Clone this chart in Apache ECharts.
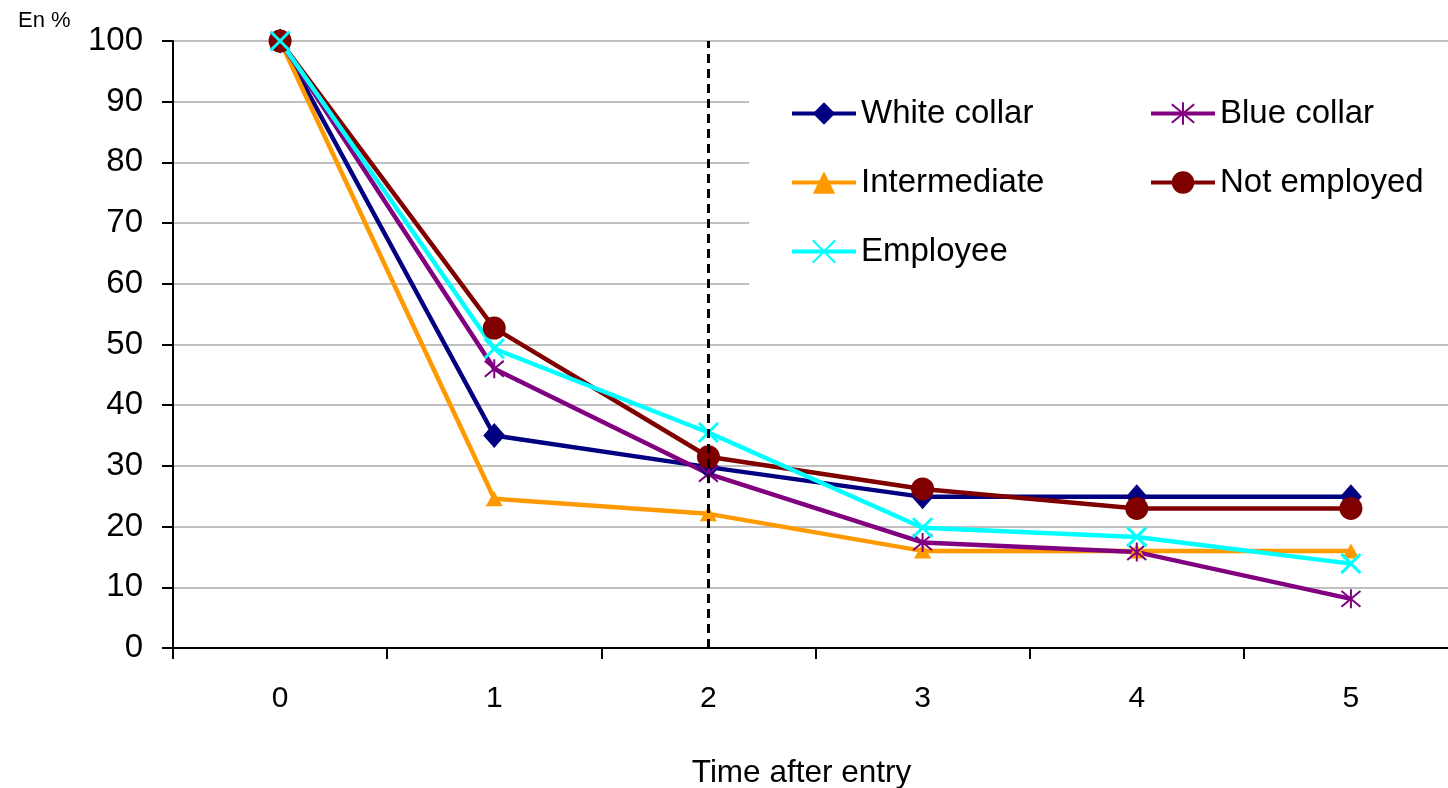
<!DOCTYPE html>
<html>
<head>
<meta charset="utf-8">
<script src="https://cdn.jsdelivr.net/npm/echarts@6/dist/echarts.min.js"></script>
<style>
html,body{margin:0;padding:0;background:#fff;}
#chart{width:1448px;height:788px;}
</style>
</head>
<body>
<div id="chart"></div>
<script>
const categories = ['0', '1', '2', '3', '4', '5'];
const whiteCollar = [100, 35.0, 29.8, 24.9, 24.9, 24.9];
const intermediate = [100, 24.6, 22.1, 16.0, 16.0, 16.0];
const employee = [100, 49.3, 35.5, 19.8, 18.3, 13.9];
const blueCollar = [100, 46.0, 28.7, 17.4, 15.8, 8.1];
const notEmployed = [100, 52.7, 31.5, 26.2, 23.0, 23.0];
const yTicks = [0, 10, 20, 30, 40, 50, 60, 70, 80, 90, 100];
const markerCategory = '2';

const FONT = '"Liberation Sans", Arial, sans-serif';
const xPath = 'path://M0,0L10,10M10,0L0,10';
const starPath = 'path://M0,0L10,10M10,0L0,10M5,-1L5,11';

const chart = echarts.init(document.getElementById('chart'), null, {renderer: 'canvas'});

function lineSeries(name, data, color, symbol, size, extra) {
  return Object.assign({
    name: name,
    type: 'line',
    data: data,
    symbol: symbol,
    symbolSize: size,
    showAllSymbol: true,
    lineStyle: {color: color, width: 4.5},
    itemStyle: {color: color, borderColor: color, borderWidth: 0},
    emphasis: {disabled: true},
    animation: false
  }, extra || {});
}

const legendCommon = {
  orient: 'vertical',
  top: 97,
  padding: 0,
  itemWidth: 64, itemHeight: 28, itemGap: 36,
  textStyle: {fontFamily: FONT, fontSize: 33, color: '#000'},
  lineStyle: {width: 4},
  selectedMode: false
};

const option = {
  animation: false,
  backgroundColor: '#fff',
  title: {
    text: 'En %',
    left: 13, top: 5,
    textStyle: {fontFamily: FONT, fontSize: 22, fontWeight: 'normal', color: '#000'}
  },
  grid: {left: 173, top: 41, bottom: 140, width: 1285, containLabel: false, outerBoundsMode: 'none'},
  graphic: [{
    type: 'rect', z: 1,
    shape: {x: 749, y: 66, width: 700, height: 230},
    style: {fill: '#fff'}
  }],
  legend: [
    Object.assign({}, legendCommon, {left: 790, data: ['White collar', 'Intermediate', 'Employee']}),
    Object.assign({}, legendCommon, {left: 1149, data: ['Blue collar', 'Not employed']})
  ],
  xAxis: {
    type: 'category',
    data: categories,
    boundaryGap: true,
    name: 'Time after entry',
    nameLocation: 'middle',
    nameGap: 109,
    nameTextStyle: {fontFamily: FONT, fontSize: 31.5, color: '#000', padding: [0, 28, 0, 0]},
    axisLine: {show: true, lineStyle: {color: '#000', width: 2}},
    axisTick: {show: true, interval: 0, length: 11, lineStyle: {color: '#000', width: 2}},
    axisLabel: {fontFamily: FONT, fontSize: 30, color: '#000', margin: 36, interval: 0},
    splitLine: {show: false}
  },
  yAxis: {
    type: 'value',
    min: yTicks[0], max: yTicks[yTicks.length - 1], interval: 10,
    axisLine: {show: true, lineStyle: {color: '#000', width: 2}},
    axisTick: {show: true, length: 11, lineStyle: {color: '#000', width: 2}},
    axisLabel: {fontFamily: FONT, fontSize: 33, color: '#000', margin: 30},
    splitLine: {show: true, lineStyle: {color: '#c0c0c0', width: 2}}
  },
  series: [
    lineSeries('White collar', whiteCollar, '#000080', 'diamond', [22, 25], {
      markLine: {
        silent: true, symbol: 'none', animation: false,
        label: {show: false},
        lineStyle: {color: '#000', width: 3, type: [9, 6]},
        data: [{xAxis: markerCategory}]
      }
    }),
    lineSeries('Intermediate', intermediate, '#FF9900', 'triangle', [17, 15]),
    lineSeries('Blue collar', blueCollar, '#800080', starPath, 19, {itemStyle: {color: '#800080', borderColor: '#800080', borderWidth: 2}}),
    lineSeries('Not employed', notEmployed, '#800000', 'circle', 23),
    lineSeries('Employee', employee, '#00FFFF', xPath, 19, {itemStyle: {color: '#00FFFF', borderColor: '#00FFFF', borderWidth: 3}})
  ]
};
chart.setOption(option);
</script>
</body>
</html>
